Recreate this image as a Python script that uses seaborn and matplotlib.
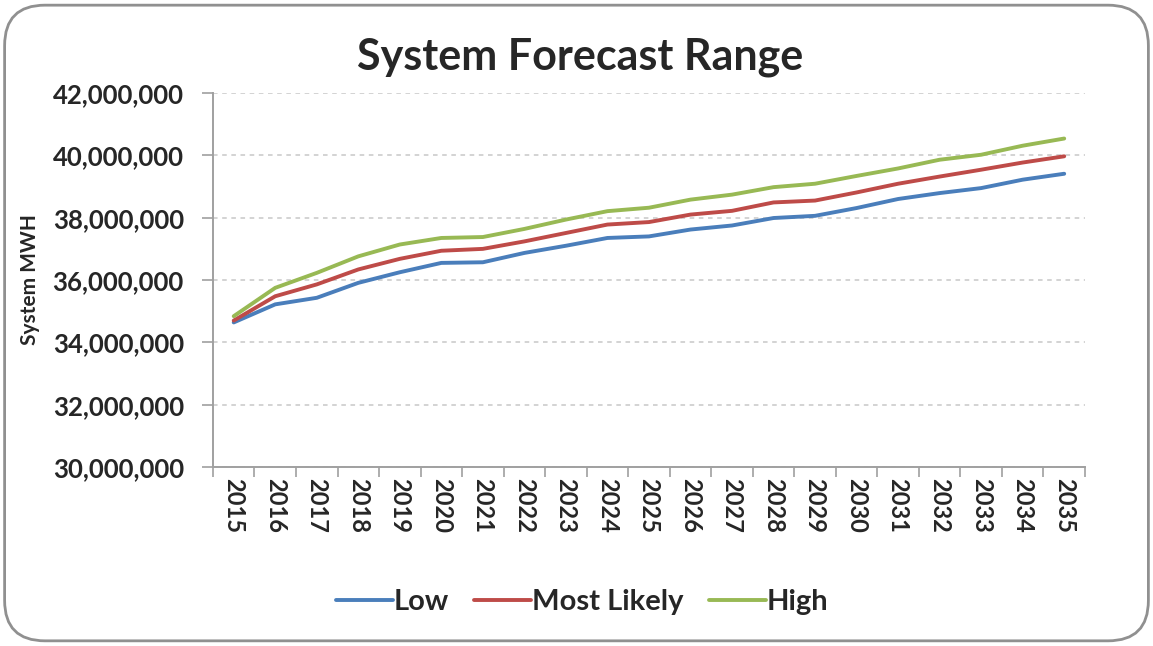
import numpy as np
import pandas as pd
import matplotlib
matplotlib.use("Agg")
import matplotlib.pyplot as plt
import seaborn as sns
from matplotlib.patches import FancyBboxPatch
from matplotlib.ticker import FuncFormatter, FixedLocator

# ---------------------------------------------------------------------------
# Data (MWh)
# ---------------------------------------------------------------------------
years = [str(y) for y in range(2015, 2036)]

low = [34.64, 35.22, 35.43, 35.91, 36.25, 36.55, 36.57, 36.87, 37.10, 37.35, 37.40,
       37.62, 37.75, 37.99, 38.06, 38.31, 38.60, 38.79, 38.95, 39.22, 39.41]
most_likely = [34.70, 35.48, 35.86, 36.34, 36.68, 36.94, 37.00, 37.24, 37.51, 37.78, 37.86,
               38.10, 38.22, 38.49, 38.55, 38.81, 39.09, 39.32, 39.54, 39.77, 39.97]
high = [34.84, 35.75, 36.23, 36.76, 37.14, 37.35, 37.38, 37.64, 37.94, 38.21, 38.32,
        38.58, 38.74, 38.98, 39.09, 39.34, 39.58, 39.86, 40.02, 40.31, 40.54]

series_names = ["Low", "Most Likely", "High"]
colors = ["#4A7EBB", "#BE4B48", "#98B954"]

df = pd.DataFrame({"Year": years, "Low": low, "Most Likely": most_likely, "High": high})
long_df = df.melt(id_vars="Year", var_name="Scenario", value_name="MWH")
long_df["MWH"] = long_df["MWH"] * 1e6

# ---------------------------------------------------------------------------
# Plot
# ---------------------------------------------------------------------------
sns.set_theme(style="white")
plt.rcParams["font.family"] = ["Lato", "DejaVu Sans"]

fig = plt.figure(figsize=(11.53, 6.46), dpi=100)
ax = fig.add_axes([0.1847, 0.277, 0.7563, 0.579])

sns.lineplot(data=long_df, x="Year", y="MWH", hue="Scenario",
             hue_order=series_names, palette=colors, linewidth=2.8,
             sort=False, ax=ax, legend=True)

ax.set_xlim(-0.5, len(years) - 0.5)
ax.set_ylim(30e6, 42e6)
ax.set_yticks(np.arange(30e6, 42e6 + 1, 2e6))
ax.yaxis.set_major_formatter(FuncFormatter(lambda v, p: f"{v:,.0f}"))
ax.yaxis.grid(True, color="#c8c8c8", linestyle=(0, (3, 3)), linewidth=1.1)
ax.xaxis.grid(False)

# tick marks between categories like Excel
ax.xaxis.set_minor_locator(FixedLocator(np.arange(-0.5, len(years), 1.0)))
ax.tick_params(axis="x", which="major", length=0, pad=8)
ax.tick_params(axis="x", which="minor", length=7, color="#a0a0a0", width=1.2, direction="out")
ax.tick_params(axis="y", which="major", length=8, color="#a0a0a0", width=1.2,
               direction="out", pad=13)
ax.xaxis.set_ticks_position("bottom")
ax.yaxis.set_ticks_position("left")

for lbl in ax.get_xticklabels():
    lbl.set_rotation(-90)
    lbl.set_fontsize(17)
    lbl.set_fontweight("bold")
    lbl.set_va("top")
for lbl in ax.get_yticklabels():
    lbl.set_fontsize(18.5)
    lbl.set_fontweight("bold")

for side in ["top", "right"]:
    ax.spines[side].set_visible(False)
for side in ["left", "bottom"]:
    ax.spines[side].set_color("#a0a0a0")
    ax.spines[side].set_linewidth(1.4)

ax.set_xlabel("")
ax.set_ylabel("System MWH", fontsize=15, fontweight="bold")
ax.yaxis.set_label_coords(-0.198, 0.5)

fig.text(0.503, 0.912, "System Forecast Range", ha="center", va="center",
         fontsize=31, fontweight="bold")

handles, labels = ax.get_legend_handles_labels()
ax.legend_.remove()
fig.legend(handles, labels, loc="center", bbox_to_anchor=(0.505, 0.068), ncol=3,
           frameon=False, prop={"size": 21, "weight": "bold"},
           handlelength=1.95, handletextpad=0.05, columnspacing=0.85)

border = FancyBboxPatch((0.004, 0.008), 0.992, 0.984, transform=fig.transFigure,
                        boxstyle="round,pad=0,rounding_size=0.035",
                        facecolor="none", edgecolor="#909090", linewidth=2,
                        mutation_aspect=1153 / 646)
fig.patches.append(border)

fig.savefig("out.png", dpi=100)
